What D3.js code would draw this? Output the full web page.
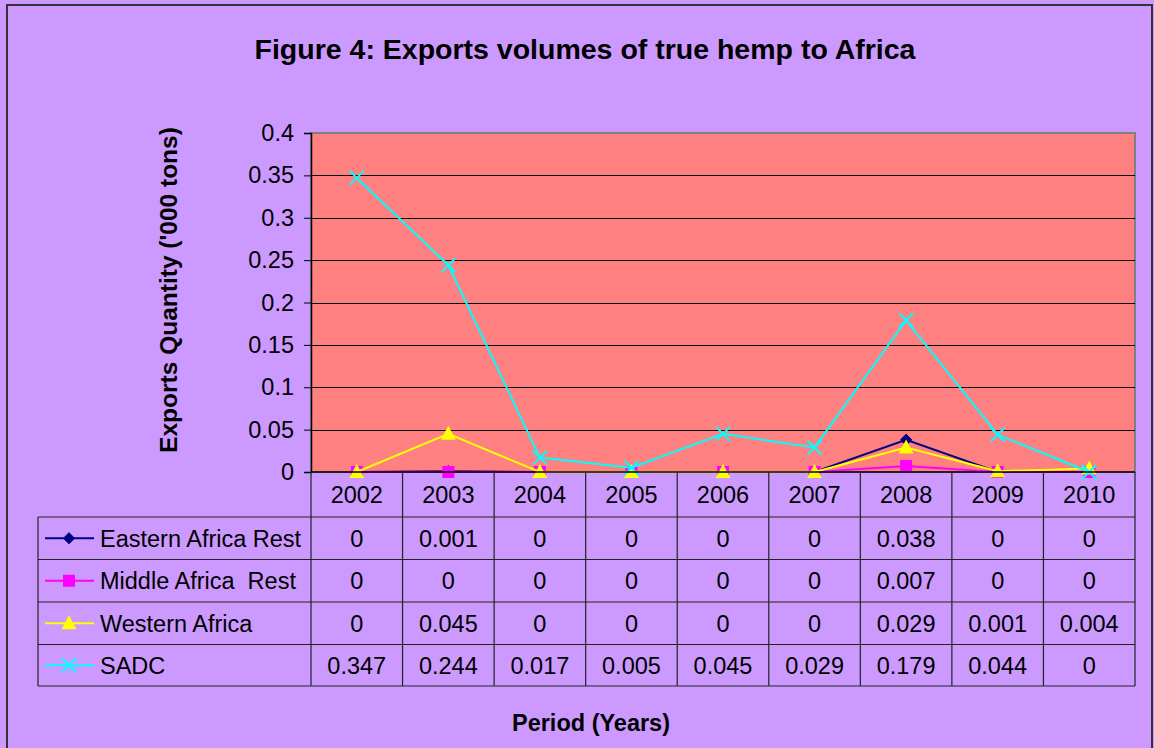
<!DOCTYPE html>
<html><head><meta charset="utf-8">
<script src="https://cdn.jsdelivr.net/npm/d3@7/dist/d3.min.js"></script>
<style>html,body{margin:0;padding:0;background:#CC99FF;}svg{display:block;}text{font-family:"Liberation Sans",Arial,sans-serif;}</style>
</head><body><svg id="c" width="1154" height="748"></svg>
<script>
const categories = ["2002","2003","2004","2005","2006","2007","2008","2009","2010"];
const seriesNames = ["Eastern Africa Rest","Middle Africa  Rest","Western Africa","SADC"];
const easternAfrica = [0,0.001,0,0,0,0,0.038,0,0];
const middleAfrica = [0,0,0,0,0,0,0.007,0,0];
const westernAfrica = [0,0.045,0,0,0,0,0.029,0.001,0.004];
const sadc = [0.347,0.244,0.017,0.005,0.045,0.029,0.179,0.044,0];
const tableLabels = [
  ["0","0.001","0","0","0","0","0.038","0","0"],
  ["0","0","0","0","0","0","0.007","0","0"],
  ["0","0.045","0","0","0","0","0.029","0.001","0.004"],
  ["0.347","0.244","0.017","0.005","0.045","0.029","0.179","0.044","0"]
];
const yTicks = [0,0.05,0.1,0.15,0.2,0.25,0.3,0.35,0.4];

const svg = d3.select("#c");
const L = 311, R = 1135, T = 133, B = 472;
const colors = ["#000080","#FF00FF","#FFFF00","#00FFFF"];
const series = [easternAfrica, middleAfrica, westernAfrica, sadc];
const FS = 23.5;

// outer
svg.append("rect").attr("x",0).attr("y",0).attr("width",1154).attr("height",748).attr("fill","#CC99FF");
svg.append("rect").attr("x",7).attr("y",5).attr("width",1145).attr("height",760).attr("fill","none").attr("stroke","#333").attr("stroke-width",2);

const x = d3.scaleBand().domain(categories).range([L,R]).padding(0);
const y = d3.scaleLinear().domain([0,0.4]).range([B,T]);

svg.append("rect").attr("x",L).attr("y",T).attr("width",R-L).attr("height",B-T).attr("fill","#FF8080").attr("stroke","#808080").attr("stroke-width",2);

// grid
svg.append("g").selectAll("line").data(yTicks.slice(1,-1)).join("line")
  .attr("x1",L).attr("x2",R).attr("y1",d=>Math.round(y(d))+0.5).attr("y2",d=>Math.round(y(d))+0.5)
  .attr("stroke","#000").attr("stroke-width",1);

// y axis
const yAxis = d3.axisLeft(y).tickValues(yTicks).tickFormat(d=>d===0?"0":String(+d.toFixed(2))).tickSize(7).tickPadding(10);
const ga = svg.append("g").attr("transform",`translate(${L},0)`).call(yAxis);
ga.selectAll("text").attr("font-size",FS).attr("fill","#000").style("font-family","'Liberation Sans',Arial,sans-serif");
ga.selectAll("line").attr("stroke","#000");
ga.select(".domain").attr("stroke","#000").attr("stroke-width",1.5);

// lines & markers
const line = d3.line().x((d,i)=>x(categories[i])+x.bandwidth()/2).y(d=>y(d));
function marker(g, k, c) {
  if (k===0) g.append("path").attr("d", d3.symbol(d3.symbolDiamond2 || d3.symbolDiamond, 80)()).attr("fill",c).attr("stroke",c);
  else if (k===1) g.append("rect").attr("x",-6).attr("y",-6).attr("width",12).attr("height",12).attr("fill",c);
  else if (k===2) g.append("path").attr("d","M0,-8L7.5,6L-7.5,6Z").attr("fill",c);
  else g.append("path").attr("d","M-7,-7L7,7M-7,7L7,-7").attr("stroke",c).attr("stroke-width",2).attr("fill","none");
}
series.forEach((s,k)=>{
  svg.append("path").datum(s).attr("d",line).attr("fill","none").attr("stroke",colors[k]).attr("stroke-width",2);
  s.forEach((v,i)=>{
    const g = svg.append("g").attr("transform",`translate(${x(categories[i])+x.bandwidth()/2},${y(v)})`);
    marker(g,k,colors[k]);
  });
});

// bottom axis line
svg.append("line").attr("x1",L).attr("x2",R).attr("y1",B).attr("y2",B).attr("stroke","#000").attr("stroke-width",1.5);

// data table
const rowTops = [472,517,559.5,602,644.5,686];
const tg = svg.append("g");
const tc = "#222";
categories.forEach((c,i)=>{
  tg.append("line").attr("x1",x(c)).attr("x2",x(c)).attr("y1",B).attr("y2",686).attr("stroke",tc).attr("stroke-width",1.2);
});
tg.append("line").attr("x1",R).attr("x2",R).attr("y1",B).attr("y2",686).attr("stroke",tc).attr("stroke-width",1.2);
tg.append("line").attr("x1",38).attr("x2",38).attr("y1",517).attr("y2",686).attr("stroke",tc).attr("stroke-width",1.2);
rowTops.slice(1).forEach(yy=>{
  tg.append("line").attr("x1",38).attr("x2",R).attr("y1",yy).attr("y2",yy).attr("stroke",tc).attr("stroke-width",1.2);
});
categories.forEach(c=>{
  tg.append("text").attr("x",x(c)+x.bandwidth()/2).attr("y",(rowTops[0]+rowTops[1])/2).attr("dy","0.36em")
    .attr("text-anchor","middle").attr("font-size",FS).text(c);
});
seriesNames.forEach((n,k)=>{
  const cy = (rowTops[k+1]+rowTops[k+2])/2;
  tg.append("line").attr("x1",45).attr("x2",94).attr("y1",cy).attr("y2",cy).attr("stroke",colors[k]).attr("stroke-width",2);
  const g = tg.append("g").attr("transform",`translate(69,${cy})`);
  marker(g,k,colors[k]);
  tg.append("text").attr("x",100).attr("y",cy).attr("dy","0.36em").attr("font-size",FS).attr("xml:space","preserve").style("white-space","pre").text(n);
  tableLabels[k].forEach((t,i)=>{
    tg.append("text").attr("x",x(categories[i])+x.bandwidth()/2).attr("y",cy).attr("dy","0.36em")
      .attr("text-anchor","middle").attr("font-size",FS).text(t);
  });
});

// titles
svg.append("text").attr("x",585).attr("y",59).attr("text-anchor","middle").attr("font-size",28.5).attr("font-weight","bold")
  .text("Figure 4: Exports volumes of true hemp to Africa");
svg.append("text").attr("transform","translate(177,290) rotate(-90)").attr("text-anchor","middle").attr("font-size",24.5).attr("font-weight","bold")
  .text("Exports Quantity ('000 tons)");
svg.append("text").attr("x",591).attr("y",731).attr("text-anchor","middle").attr("font-size",23.5).attr("font-weight","bold")
  .text("Period (Years)");
</script></body></html>
